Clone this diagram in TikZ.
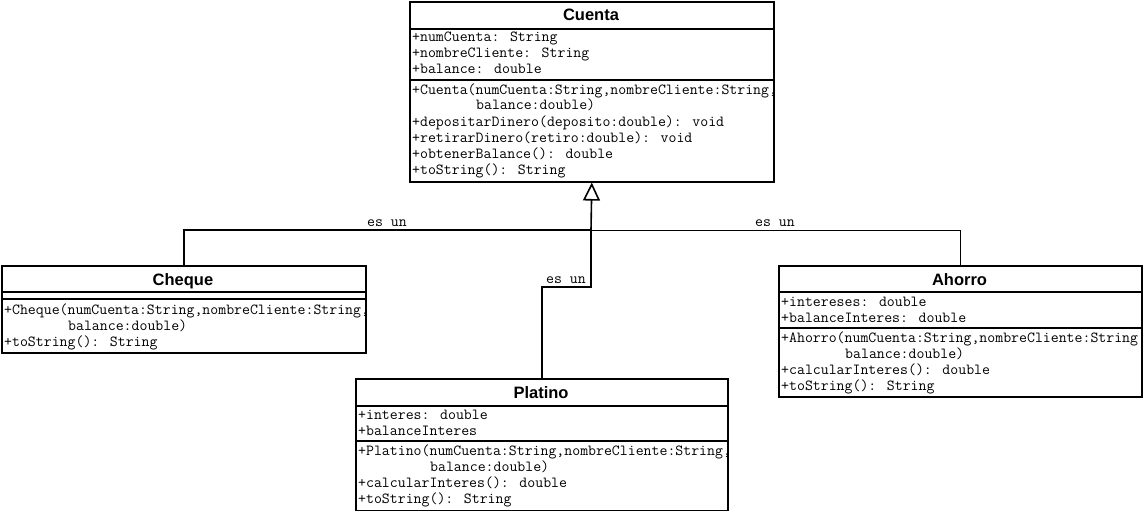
\documentclass[tikz,border=0pt]{standalone}
\usepackage{fontspec}
\setmainfont{Liberation Sans}
\usetikzlibrary{arrows.meta}
\begin{document}
\begin{tikzpicture}[x=1pt,y=-1pt,
  classbox/.style={draw,line width=1.6pt,inner sep=0pt,anchor=north west},
  divider/.style={line width=1.6pt},
  ctitle/.style={font=\fontsize{16.5}{16}\selectfont\bfseries,inner sep=0pt,anchor=base},
  mono/.style={font=\fontsize{15.4}{16}\selectfont\ttfamily,inner sep=0pt,anchor=base west},
  lbl/.style={font=\fontsize{15.4}{16}\selectfont\ttfamily,inner sep=0pt,anchor=base},
  conn/.style={line width=1.6pt},
  thinconn/.style={line width=1pt},
  inh/.style={conn,-{Triangle[open,length=18pt,width=17pt,line width=1.6pt]}}]
\useasboundingbox (0,0) rectangle (1143,511);

% ---------- Cuenta ----------
\node[classbox,minimum width=364pt,minimum height=180pt] (cuenta) at (409,1) {};
\draw[divider] (cuenta.west |- 0,29) -- (cuenta.east |- 0,29);
\draw[divider] (cuenta.west |- 0,80) -- (cuenta.east |- 0,80);
\node[ctitle] (cuT) at (591,21) {Cuenta};
\node[mono] (cuA1) at (412,42) {+numCuenta: String};
\node[mono] (cuA2) at (412,58) {+nombreCliente: String};
\node[mono] (cuA3) at (412,74) {+balance: double};
\node[mono] (cuM1) at (412,94) {+Cuenta(numCuenta:String,nombreCliente:String,};
\node[mono] (cuM1b) at (476,110) {balance:double)};
\node[mono] (cuM2) at (412,126) {+depositarDinero(deposito:double): void};
\node[mono] (cuM3) at (412,142) {+retirarDinero(retiro:double): void};
\node[mono] (cuM4) at (412,158) {+obtenerBalance(): double};
\node[mono] (cuM5) at (412,174) {+toString(): String};

% ---------- Cheque ----------
\node[classbox,minimum width=364pt,minimum height=87pt] (cheque) at (1,265) {};
\draw[divider] (cheque.west |- 0,292) -- (cheque.east |- 0,292);
\draw[divider] (cheque.west |- 0,299) -- (cheque.east |- 0,299);
\node[ctitle] (chT) at (183,285) {Cheque};
\node[mono] (chM1) at (4,314) {+Cheque(numCuenta:String,nombreCliente:String,};
\node[mono] (chM1b) at (68,330) {balance:double)};
\node[mono] (chM2) at (4,346) {+toString(): String};

% ---------- Ahorro ----------
\node[classbox,minimum width=363pt,minimum height=131pt] (ahorro) at (778,265) {};
\draw[divider] (ahorro.west |- 0,292) -- (ahorro.east |- 0,292);
\draw[divider] (ahorro.west |- 0,328) -- (ahorro.east |- 0,328);
\node[ctitle] (ahT) at (959.5,285) {Ahorro};
\node[mono] (ahA1) at (781,306) {+intereses: double};
\node[mono] (ahA2) at (781,322) {+balanceInteres: double};
\node[mono] (ahM1) at (781,342) {+Ahorro(numCuenta:String,nombreCliente:String};
\node[mono] (ahM1b) at (845,358) {balance:double)};
\node[mono] (ahM2) at (781,374) {+calcularInteres(): double};
\node[mono] (ahM3) at (781,390) {+toString(): String};

% ---------- Platino ----------
\node[classbox,minimum width=372pt,minimum height=132pt] (platino) at (355,378) {};
\draw[divider] (platino.west |- 0,406) -- (platino.east |- 0,406);
\draw[divider] (platino.west |- 0,441) -- (platino.east |- 0,441);
\node[ctitle] (plT) at (541,398) {Platino};
\node[mono] (plA1) at (358,419) {+interes: double};
\node[mono] (plA2) at (358,435) {+balanceInteres};
\node[mono] (plM1) at (358,455) {+Platino(numCuenta:String,nombreCliente:String,};
\node[mono] (plM1b) at (430,471) {balance:double)};
\node[mono] (plM2) at (358,487) {+calcularInteres(): double};
\node[mono] (plM3) at (358,503) {+toString(): String};

% ---------- connectors ----------
\coordinate (j) at (591,230);
\coordinate (jp) at (591,287);
\draw[conn] (cheque.north) |- (j);
\draw[conn] (ahorro.north) -- (ahorro.north |- j);
\draw[thinconn] (ahorro.north |- j) -- (j);
\draw[conn] (platino.north) |- (jp) -- (j);
\draw[inh] (j) -- (cuenta.south);

\node[lbl] (l1) at (387,226) {es un};
\node[lbl] (l2) at (566,283) {es un};
\node[lbl] (l3) at (775,226) {es un};
\end{tikzpicture}
\end{document}
